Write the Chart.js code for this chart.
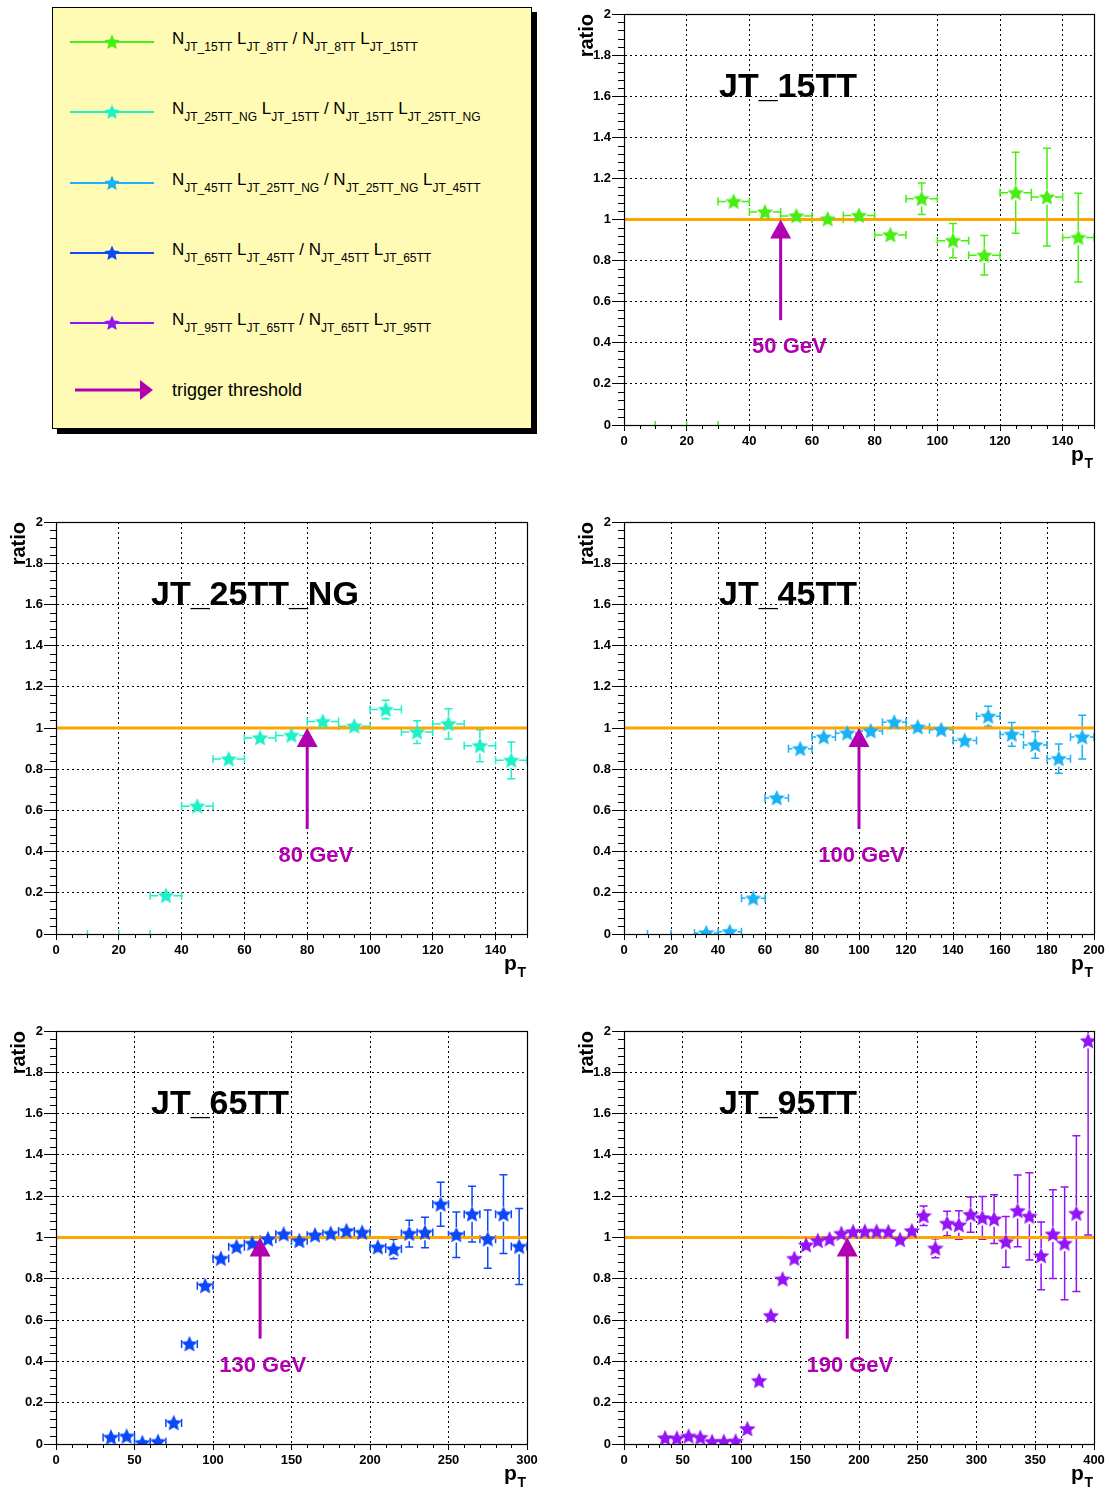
<!DOCTYPE html>
<html>
<head>
<meta charset="utf-8">
<title>Trigger turn-on ratios</title>
<script src="https://cdn.jsdelivr.net/npm/chart.js@4.4.1/dist/chart.umd.min.js"></script>
<style>
  html, body { margin: 0; padding: 0; background: #ffffff; }
  body { width: 1109px; height: 1489px; position: relative; overflow: hidden;
         font-family: "Liberation Sans", Arial, Helvetica, sans-serif; }
  canvas { position: absolute; }
  #legend { position: absolute; left: 0; top: 0; }
</style>
</head>
<body>
<svg id="legend" width="560" height="450" xmlns="http://www.w3.org/2000/svg"></svg>
<canvas id="c15"></canvas>
<canvas id="c25"></canvas>
<canvas id="c45"></canvas>
<canvas id="c65"></canvas>
<canvas id="c95"></canvas>
<script>
// ---- measured ratios (bin centres in GeV, ratio, vertical error) ----
const pt15    = [35, 45, 55, 65, 75, 85, 95, 105, 115, 125, 135, 145];
const ratio15 = [1.087, 1.036, 1.017, 1.002, 1.019, 0.925, 1.101, 0.897, 0.826, 1.130, 1.109, 0.912];
const err15   = [0.025, 0.02, 0.02, 0.02, 0.025, 0.03, 0.077, 0.083, 0.096, 0.197, 0.238, 0.216];
const empty15 = [5, 15, 25];

const pt25    = [35, 45, 55, 65, 75, 85, 95, 105, 115, 125, 135, 145];
const ratio25 = [0.186, 0.620, 0.849, 0.952, 0.964, 1.031, 1.009, 1.090, 0.980, 1.020, 0.914, 0.843];
const err25   = [0.01, 0.015, 0.02, 0.02, 0.025, 0.03, 0.035, 0.045, 0.055, 0.073, 0.078, 0.089];
const empty25 = [5, 15, 25];

const pt45    = [35, 45, 55, 65, 75, 85, 95, 105, 115, 125, 135, 145, 155, 165, 175, 185, 195];
const ratio45 = [0.005, 0.011, 0.173, 0.660, 0.899, 0.956, 0.975, 0.985, 1.028, 1.004, 0.991, 0.939,
                 1.057, 0.969, 0.918, 0.851, 0.956];
const err45   = [0.005, 0.008, 0.015, 0.02, 0.02, 0.02, 0.02, 0.022, 0.025, 0.03, 0.032, 0.035,
                 0.048, 0.058, 0.065, 0.071, 0.106];
const empty45 = [5, 15, 25];

const pt65    = [35, 45, 55, 65, 75, 85, 95, 105, 115, 125, 135, 145, 155, 165, 175, 185, 195,
                 205, 215, 225, 235, 245, 255, 265, 275, 285, 295];
const ratio65 = [0.032, 0.037, 0.006, 0.011, 0.102, 0.484, 0.766, 0.898, 0.955, 0.971, 0.992, 1.016,
                 0.984, 1.011, 1.019, 1.032, 1.024, 0.953, 0.944, 1.019, 1.024, 1.161, 1.013, 1.113,
                 0.992, 1.113, 0.956];
const err65   = [0.01, 0.01, 0.005, 0.005, 0.01, 0.012, 0.012, 0.012, 0.013, 0.014, 0.015, 0.016,
                 0.017, 0.019, 0.021, 0.024, 0.027, 0.035, 0.047, 0.065, 0.074, 0.107, 0.110, 0.135,
                 0.141, 0.191, 0.184];
const empty65 = [];

const pt95    = [35, 45, 55, 65, 75, 85, 95, 105, 115, 125, 135, 145, 155, 165, 175, 185, 195,
                 205, 215, 225, 235, 245, 255, 265, 275, 285, 295, 305, 315, 325, 335, 345,
                 355, 365, 375, 385, 395];
const ratio95 = [0.029, 0.027, 0.037, 0.031, 0.011, 0.011, 0.013, 0.073, 0.306, 0.621, 0.798, 0.898,
                 0.963, 0.984, 0.992, 1.019, 1.027, 1.029, 1.029, 1.027, 0.989, 1.032, 1.105, 0.948,
                 1.068, 1.060, 1.111, 1.095, 1.089, 0.979, 1.129, 1.102, 0.911, 1.016, 0.971, 1.116,
                 1.952];
const err95   = [0.005, 0.005, 0.005, 0.005, 0.005, 0.005, 0.005, 0.008, 0.01, 0.01, 0.01, 0.01,
                 0.01, 0.011, 0.012, 0.013, 0.014, 0.015, 0.017, 0.02, 0.022, 0.026, 0.047, 0.046,
                 0.059, 0.069, 0.085, 0.103, 0.118, 0.123, 0.174, 0.211, 0.164, 0.215, 0.273, 0.377,
                 0.94];
const empty95 = [];

// ---- panel descriptions ----
const triggerNames   = ['JT_15TT', 'JT_25TT_NG', 'JT_45TT', 'JT_65TT', 'JT_95TT'];
const referenceNames = ['JT_8TT', 'JT_15TT', 'JT_25TT_NG', 'JT_45TT', 'JT_65TT'];
const thresholds     = [50, 80, 100, 130, 190];
const xMaxima        = [150, 150, 200, 300, 400];
const xMajorSteps    = [20, 20, 20, 50, 50];
const xMinorSteps    = [5, 5, 5, 10, 10];
const seriesColors   = ['#47ee12', '#1ef0c8', '#1ab2f4', '#0b48fa', '#9414f8'];
const yTickValues    = [0, 0.2, 0.4, 0.6, 0.8, 1, 1.2, 1.4, 1.6, 1.8, 2];
const binHalfWidth   = 5;
const unityLevel     = 1;
const arrowFrom      = 0.51;
const labelLevel     = 0.35;

const panelData = [
  { pts: pt15, ratio: ratio15, err: err15, empty: empty15 },
  { pts: pt25, ratio: ratio25, err: err25, empty: empty25 },
  { pts: pt45, ratio: ratio45, err: err45, empty: empty45 },
  { pts: pt65, ratio: ratio65, err: err65, empty: empty65 },
  { pts: pt95, ratio: ratio95, err: err95, empty: empty95 }
];

// canvas placement of each pad
const padBoxes = [
  { id: 'c15', left: 568, top: 0,    width: 541, height: 480 },
  { id: 'c25', left: 0,   top: 508,  width: 542, height: 481 },
  { id: 'c45', left: 568, top: 508,  width: 541, height: 481 },
  { id: 'c65', left: 0,   top: 1017, width: 542, height: 482 },
  { id: 'c95', left: 568, top: 1017, width: 541, height: 482 }
];

const FONT = '"Liberation Sans", Arial, Helvetica, sans-serif';
Chart.defaults.font.family = FONT;
const ARROW_COLOR = '#b000b0';
const STAR_R = 8.7;
const STAR_INNER = 0.47;

// filled five-pointed star used as the point marker
function starPath(g, cx, cy, R) {
  g.beginPath();
  for (let k = 0; k < 10; k++) {
    const rr = (k % 2) ? R * STAR_INNER : R;
    const a = -Math.PI / 2 + k * Math.PI / 5;
    g.lineTo(cx + rr * Math.cos(a), cy + rr * Math.sin(a));
  }
  g.closePath();
}
function starImage(color, R) {
  const s = Math.ceil(R * 2 + 2);
  const c = document.createElement('canvas');
  c.width = s; c.height = s;
  const g = c.getContext('2d');
  starPath(g, s / 2, s / 2 + 0.5, R);
  g.fillStyle = color;
  g.fill();
  return c;
}

// frame, minor ticks, error bars, threshold arrow and pad labels
const padDecor = {
  id: 'padDecor',
  beforeDatasetsDraw(chart, args, o) {
    const { ctx, chartArea: a, scales: { x, y } } = chart;
    ctx.save();
    ctx.strokeStyle = '#000';
    ctx.lineWidth = 1;
    ctx.beginPath();
    // y minor ticks every 0.04
    for (let k = 0; k <= 50; k++) {
      if (k % 5 === 0) continue;
      const py = Math.round(y.getPixelForValue(k * 0.04)) + 0.5;
      ctx.moveTo(a.left - 6, py); ctx.lineTo(a.left, py);
    }
    // x minor ticks
    const nx = Math.round(o.xMax / o.minor);
    const per = Math.round(o.major / o.minor);
    for (let k = 0; k <= nx; k++) {
      if (k % per === 0) continue;
      const px = Math.round(x.getPixelForValue(k * o.minor)) + 0.5;
      ctx.moveTo(px, a.bottom); ctx.lineTo(px, a.bottom + 4);
    }
    ctx.stroke();

    // error bars, clipped to the pad
    ctx.beginPath();
    ctx.rect(a.left, a.top, a.right - a.left, a.bottom - a.top);
    ctx.clip();
    const ds = chart.data.datasets[0];
    ctx.strokeStyle = o.color;
    ctx.lineWidth = 1.5;
    ctx.beginPath();
    const cap = 4, gap = STAR_R - 1;
    ds.data.forEach((p, i) => {
      const px = x.getPixelForValue(p.x), py = y.getPixelForValue(p.y);
      const xl = x.getPixelForValue(p.x - o.halfWidth), xr = x.getPixelForValue(p.x + o.halfWidth);
      const yt = y.getPixelForValue(p.y + ds.yErr[i]), yb = y.getPixelForValue(p.y - ds.yErr[i]);
      if (px - xl > gap) {
        ctx.moveTo(xl, py); ctx.lineTo(px - gap, py);
        ctx.moveTo(px + gap, py); ctx.lineTo(xr, py);
        ctx.moveTo(xl, py - cap); ctx.lineTo(xl, py + cap);
        ctx.moveTo(xr, py - cap); ctx.lineTo(xr, py + cap);
      }
      if (py - yt > gap) {
        ctx.moveTo(px, yt); ctx.lineTo(px, py - gap);
        ctx.moveTo(px, py + gap); ctx.lineTo(px, yb);
        ctx.moveTo(px - cap, yt); ctx.lineTo(px + cap, yt);
        ctx.moveTo(px - cap, yb); ctx.lineTo(px + cap, yb);
      }
    });
    // empty bins only leave their end caps on the axis
    const y0 = y.getPixelForValue(0);
    o.empty.forEach(c => {
      [c - o.halfWidth, c + o.halfWidth].forEach(e => {
        const ex = x.getPixelForValue(e);
        ctx.moveTo(ex, y0 - cap); ctx.lineTo(ex, y0 + cap);
      });
    });
    ctx.stroke();
    ctx.restore();
  },
  afterDatasetsDraw(chart, args, o) {
    const { ctx, chartArea: a, scales: { x, y } } = chart;
    ctx.save();
    // threshold arrow
    const ax = x.getPixelForValue(o.threshold);
    const tipY = y.getPixelForValue(unityLevel);
    const baseY = y.getPixelForValue(arrowFrom);
    const headH = 19, headW = 21;
    ctx.strokeStyle = ARROW_COLOR;
    ctx.fillStyle = ARROW_COLOR;
    ctx.lineWidth = 3;
    ctx.beginPath();
    ctx.moveTo(ax, baseY); ctx.lineTo(ax, tipY + headH - 1);
    ctx.stroke();
    ctx.beginPath();
    ctx.moveTo(ax, tipY);
    ctx.lineTo(ax - headW / 2, tipY + headH);
    ctx.lineTo(ax + headW / 2, tipY + headH);
    ctx.closePath();
    ctx.fill();
    // threshold label
    ctx.font = 'bold 22px ' + FONT;
    ctx.textAlign = 'right';
    ctx.textBaseline = 'alphabetic';
    ctx.fillText(o.threshold + ' GeV', ax + 46, y.getPixelForValue(labelLevel));
    // trigger name
    ctx.fillStyle = '#000';
    ctx.textAlign = 'left';
    ctx.font = 'bold 34px ' + FONT;
    ctx.fillText(o.title, a.left + 95, a.top + 83);
    // frame
    ctx.strokeStyle = '#000';
    ctx.lineWidth = 1.2;
    ctx.strokeRect(Math.round(a.left) + 0.5, Math.round(a.top) + 0.5,
                   Math.round(a.right - a.left), Math.round(a.bottom - a.top));
    // p_T axis title
    ctx.font = 'bold 14px ' + FONT;
    const wT = ctx.measureText('T').width;
    ctx.textAlign = 'right';
    const right = a.right - 1;
    ctx.fillText('T', right, a.bottom + 43);
    ctx.font = 'bold 21px ' + FONT;
    ctx.fillText('p', right - wT - 0.5, a.bottom + 36);
    ctx.restore();
  }
};

// major x ticks at every multiple of the step inside [0, max]
function majorTicks(step, max) {
  return s => {
    const t = [];
    for (let k = 0; k * step <= max + 1e-9; k++) t.push({ value: k * step });
    s.ticks = t;
  };
}

panelData.forEach((pd, i) => {
  const box = padBoxes[i];
  const cv = document.getElementById(box.id);
  cv.width = box.width; cv.height = box.height;
  cv.style.left = box.left + 'px'; cv.style.top = box.top + 'px';
  cv.style.width = box.width + 'px'; cv.style.height = box.height + 'px';

  const axisCommon = {
    type: 'linear',
    ticks: { color: '#000', font: { size: 13, weight: 'bold' }, autoSkip: false, maxRotation: 0 },
    border: { display: true, color: '#000', width: 1, dash: [2, 3] },
  };

  new Chart(cv, {
    type: 'scatter',
    data: {
      datasets: [
        {
          type: 'scatter',
          data: pd.pts.map((p, k) => ({ x: p, y: pd.ratio[k] })),
          yErr: pd.err,
          pointStyle: starImage(seriesColors[i], STAR_R),
          pointRadius: STAR_R,
          order: 1,
          clip: 0
        },
        {
          type: 'line',
          data: [{ x: 0, y: unityLevel }, { x: xMaxima[i], y: unityLevel }],
          borderColor: '#ffa500',
          borderWidth: 3,
          pointRadius: 0,
          order: 2,
          clip: 0
        }
      ]
    },
    options: {
      responsive: false,
      animation: false,
      events: [],
      layout: { padding: { left: 2, top: 14, right: 15, bottom: 0 }, autoPadding: false },
      plugins: {
        legend: { display: false },
        tooltip: { enabled: false },
        padDecor: {
          title: triggerNames[i],
          threshold: thresholds[i],
          color: seriesColors[i],
          halfWidth: binHalfWidth,
          empty: pd.empty,
          xMax: xMaxima[i],
          major: xMajorSteps[i],
          minor: xMinorSteps[i]
        }
      },
      scales: {
        x: Object.assign({}, axisCommon, {
          min: 0, max: xMaxima[i],
          afterFit: s => { s.height = 55; },
          afterBuildTicks: majorTicks(xMajorSteps[i], xMaxima[i]),
          ticks: Object.assign({}, axisCommon.ticks, {
            padding: 3, callback: v => String(v)
          }),
          grid: { color: '#000', lineWidth: 1, tickLength: 6, tickColor: '#000', tickWidth: 1,
                  tickBorderDash: [] }
        }),
        y: Object.assign({}, axisCommon, {
          min: yTickValues[0], max: yTickValues[yTickValues.length - 1],
          afterFit: s => { s.width = 54; },
          afterBuildTicks: s => { s.ticks = yTickValues.map(v => ({ value: v })); },
          ticks: Object.assign({}, axisCommon.ticks, {
            padding: 1, callback: v => String(Math.round(v * 10) / 10)
          }),
          grid: { color: '#000', lineWidth: 1, tickLength: 12, tickColor: '#000', tickWidth: 1,
                  tickBorderDash: [] },
          title: { display: true, text: 'ratio', align: 'end', color: '#000',
                   font: { size: 20, weight: 'bold' }, padding: { top: 5, bottom: 0 } }
        })
      }
    },
    plugins: [padDecor]
  });
});

// ---- legend box ----
(function buildLegend() {
  const NS = 'http://www.w3.org/2000/svg';
  const svg = document.getElementById('legend');
  const el = (tag, attrs, parent) => {
    const e = document.createElementNS(NS, tag);
    Object.keys(attrs).forEach(k => e.setAttribute(k, attrs[k]));
    (parent || svg).appendChild(e);
    return e;
  };
  el('rect', { x: 57, y: 12, width: 480, height: 422, fill: '#000' });
  el('rect', { x: 52.5, y: 7.5, width: 479, height: 421, fill: '#fffbb4', stroke: '#000', 'stroke-width': 1 });

  const rowY = [42, 112, 183, 253, 323];
  triggerNames.forEach((name, i) => {
    const ly = rowY[i];
    el('line', { x1: 70, y1: ly, x2: 154, y2: ly, stroke: seriesColors[i], 'stroke-width': 2 });
    const pts = [];
    for (let k = 0; k < 10; k++) {
      const rr = (k % 2) ? 8 * STAR_INNER : 8;
      const a = -Math.PI / 2 + k * Math.PI / 5;
      pts.push((112 + rr * Math.cos(a)).toFixed(2) + ',' + (ly + 0.5 + rr * Math.sin(a)).toFixed(2));
    }
    el('polygon', { points: pts.join(' '), fill: seriesColors[i] });

    const ref = referenceNames[i];
    const parts = [['N', false], [name, true], ['\u00a0L', false], [ref, true],
                   ['\u00a0/\u00a0N', false], [ref, true], ['\u00a0L', false], [name, true]];
    const t = el('text', { x: 172, y: ly + 2, 'font-family': FONT, 'font-size': 17, fill: '#000' });
    let lowered = false;
    parts.forEach(([str, sub]) => {
      const attrs = {};
      if (sub && !lowered) { attrs.dy = 7; lowered = true; }
      else if (!sub && lowered) { attrs.dy = -7; lowered = false; }
      if (sub) attrs['font-size'] = 12;
      const sp = el('tspan', attrs, t);
      sp.textContent = str;
    });
  });

  // arrow sample
  el('line', { x1: 75, y1: 390, x2: 142, y2: 390, stroke: ARROW_COLOR, 'stroke-width': 3 });
  el('polygon', { points: '140,380 153,390 140,400', fill: ARROW_COLOR });
  const tt = el('text', { x: 172, y: 396, 'font-family': FONT, 'font-size': 18, fill: '#000' });
  tt.textContent = 'trigger threshold';
})();
</script>
</body>
</html>
